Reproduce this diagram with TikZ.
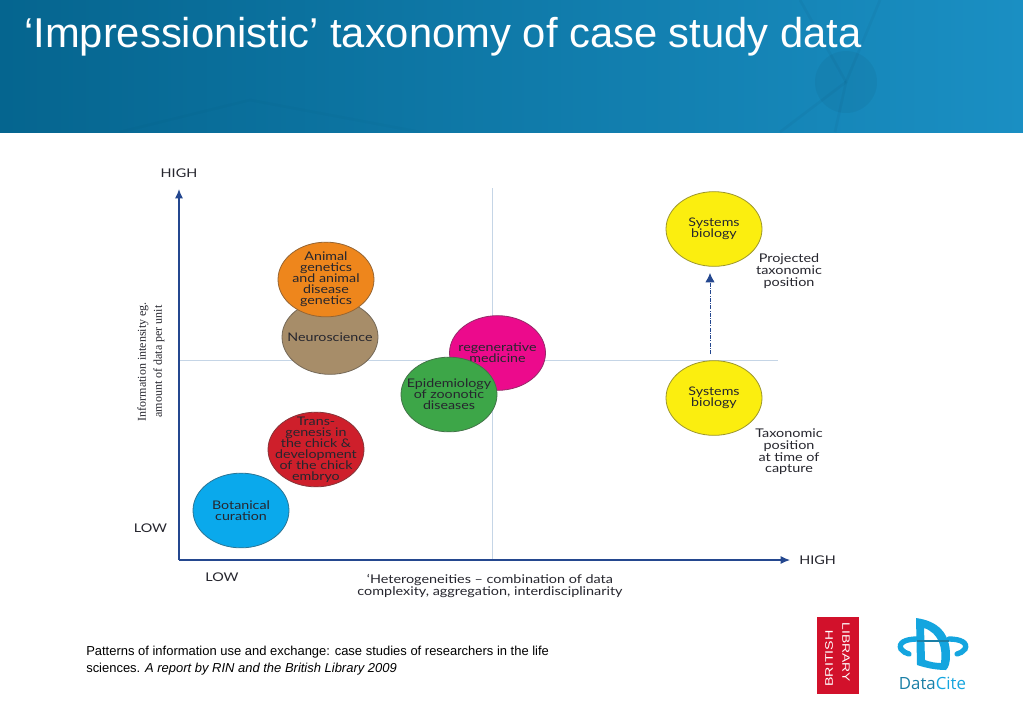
\documentclass[tikz,border=0pt]{standalone}
\usepackage{fontspec}
\setmainfont{Liberation Sans}
\newfontfamily\chartfont[FakeStretch=1.2]{Lato}
\newfontfamily\logofont[FakeStretch=1.3]{Liberation Sans}
\usepackage{xcolor}
\usetikzlibrary{shapes.geometric,arrows.meta}
\definecolor{headleft}{HTML}{05658F}
\definecolor{headright}{HTML}{1A8FC3}
\definecolor{axisblue}{HTML}{24478F}
\definecolor{gridblue}{HTML}{C5D5E6}
\definecolor{inkdark}{HTML}{26262E}
\definecolor{blred}{HTML}{D2112B}
\definecolor{dcblue}{HTML}{14A5DF}
\definecolor{dcteal}{HTML}{1A7FA6}
\tikzset{
  blob/.style={ellipse,draw=#1!55!black!85,fill=#1,line width=0.6pt,minimum width=72pt,minimum height=56pt,inner sep=-20pt,align=center,text=inkdark,font=\chartfont\fontsize{8.9}{8.3}\selectfont},
  chartlabel/.style={text=inkdark,align=center,inner sep=0pt,font=\chartfont\fontsize{9}{8.7}\selectfont},
  axisline/.style={axisblue,line width=0.9pt,-{Latex[length=7pt,width=6pt]}},
  gridline/.style={gridblue,line width=0.7pt}
}
\definecolor{botblue}{HTML}{0AA9EC}
\definecolor{transred}{HTML}{CE1F2B}
\definecolor{neurotan}{HTML}{A78D69}
\definecolor{animalorange}{HTML}{EE861C}
\definecolor{regenpink}{HTML}{EC0A8C}
\definecolor{epigreen}{HTML}{3DA648}
\definecolor{sysyellow}{HTML}{FBEE0F}
\begin{document}
\begin{tikzpicture}[x=0.75pt,y=-0.75pt]
\useasboundingbox (0,0) rectangle (1023,708);
\fill[white] (0,0) rectangle (1023,708);

% Header band
\shade[left color=headleft,right color=headright] (0,0) rectangle (1023,132);
\begin{scope}
\clip (0,0) rectangle (1023,132);
\fill[black,opacity=0.04] (846,82) circle (31);
\draw[black,opacity=0.03,line width=2pt] (846,82) -- (800,0);
\draw[black,opacity=0.03,line width=2pt] (846,82) -- (880,0);
\draw[black,opacity=0.03,line width=2pt] (846,82) -- (780,132);
\draw[black,opacity=0.03,line width=2pt] (846,82) -- (835,132);
\draw[black,opacity=0.015,line width=2pt] (120,132) -- (250,100) -- (420,132);
\end{scope}
\node[white,anchor=west,inner sep=0pt,font=\fontsize{31.3}{31.3}\selectfont] (title) at (24,37) {‘Impressionistic’ taxonomy of case study data};

% Grid lines
\draw[gridline] (179,360.5) -- (778,360.5);
\draw[gridline] (492,188) -- (492,560);

% Axes
\coordinate (origin) at (179,560);
\coordinate (ytip) at (179,189);
\coordinate (xtip) at (790,560);
\draw[axisline] (origin) -- (ytip);
\draw[axisline] (origin) -- (xtip);

% Axis labels
\node[chartlabel] (yhigh) at (179,173) {HIGH};
\node[chartlabel] (ylow) at (150.5,528) {LOW};
\node[chartlabel] (xlow) at (222,577) {LOW};
\node[chartlabel,anchor=west] (xhigh) at (799,560) {HIGH};
\node[chartlabel] (xtitle) at (490,586) {‘Heterogeneities – combination of data\\complexity, aggregation, interdisciplinarity};
\node[text=inkdark,align=center,inner sep=0pt,rotate=90,font=\fontsize{9}{12}\selectfont\fontspec{Liberation Serif}] (ytitle) at (151,361.5) {Information intensity eg.\\amount of data per unit};

% Case studies
\node[blob=botblue] (botanical) at (241,510.5) {Botanical\\curation};
\node[blob=transred] (transgenesis) at (316,449.5) {Trans-\\genesis in\\the chick \&\\development\\of the chick\\embryo};
\node[blob=neurotan] (neuro) at (330,337) {Neuroscience};
\node[blob=animalorange] (animal) at (326,279.5) {Animal\\genetics\\and animal\\disease\\genetics};
\node[blob=regenpink] (regen) at (497.5,353) {regenerative\\medicine};
\node[blob=epigreen] (epidem) at (449,394.5) {Epidemiology\\of zoonotic\\diseases};
\node[blob=sysyellow] (sysup) at (714,229) {Systems\\biology};
\node[blob=sysyellow] (sysdown) at (714,398) {Systems\\biology};

% Projected move
\coordinate (movestart) at (710,354);
\coordinate (moveend) at (710,273);
\draw[axisblue,line width=0.6pt,densely dashdotted,-{Latex[length=7pt,width=7pt]}] (movestart) -- (moveend);
\node[chartlabel] (projected) at (789,271) {Projected\\taxonomic\\position};
\node[chartlabel] (capture) at (789,452) {Taxonomic\\position\\at time of\\capture};

% Source note
\node[anchor=north west,inner sep=0pt,align=left,text=black,font=\fontsize{9.73}{12.6}\selectfont] (source) at (86,646) {Patterns of information use and exchange: case studies of researchers in the life\\sciences. \textit{A report by RIN and the British Library 2009}};

% British Library logo
\fill[blred] (817,617) rectangle (859,694);
\node[white,rotate=-90,inner sep=0pt,font=\logofont\fontsize{8}{8}\selectfont] (bllibrary) at (846,652) {LIBRARY};
\node[white,rotate=90,inner sep=0pt,font=\logofont\fontsize{8.2}{8}\selectfont] (blbritish) at (829,658.5) {BRITISH};

% DataCite logo
\draw[dcblue,line width=4pt,line cap=round] (917,639) .. controls (905,639) and (898,643) .. (901,649) .. controls (903,652) and (906,653) .. (909,654);
\draw[dcblue,line width=4pt,line cap=round] (949,639) .. controls (961,639) and (968,643) .. (965,649) .. controls (963,652) and (960,653) .. (957,654);
\fill[dcblue,even odd rule] (916,618) .. controls (938,621) and (950,633) .. (950,655) .. controls (950,662) and (949,667) .. (946,670) .. controls (936,670) and (926,668) .. (917,665) -- cycle
  (924,628) -- (925,660) .. controls (930,662) and (936,663) .. (941,663) .. controls (943,648) and (939,633) .. cycle;
\draw[dcteal,line width=1.4pt] (917,641) -- (949,641);
\node[inner sep=0pt,font=\fontsize{12.6}{12.6}\selectfont] (datacite) at (932.5,683) {\fontspec{Open Sans}\textcolor{dcteal}{Data}\textcolor{dcblue}{Cite}};
\end{tikzpicture}
\end{document}
